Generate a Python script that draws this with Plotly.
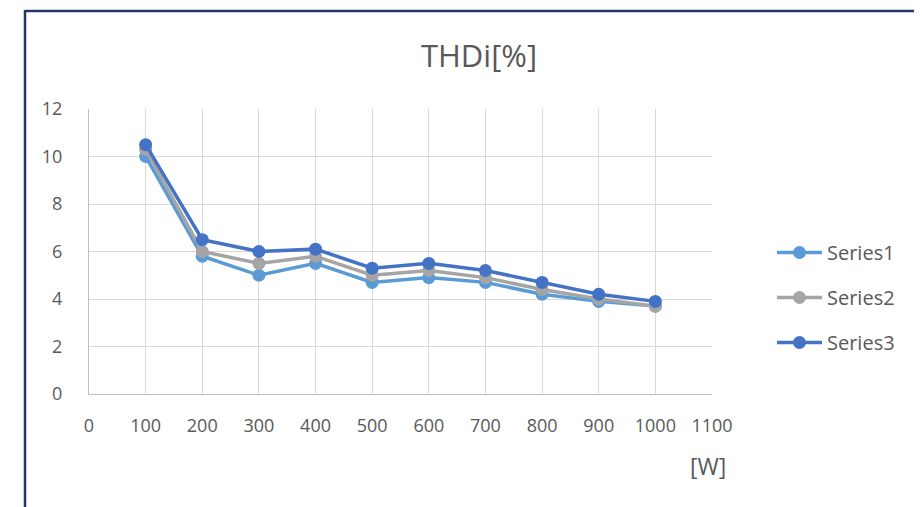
import plotly.graph_objects as go

watts = [100, 200, 300, 400, 500, 600, 700, 800, 900, 1000]
series1 = [10.0, 5.8, 5.0, 5.5, 4.7, 4.9, 4.7, 4.2, 3.9, 3.7]
series2 = [10.3, 6.0, 5.5, 5.8, 5.0, 5.2, 4.9, 4.4, 4.0, 3.7]
series3 = [10.5, 6.5, 6.0, 6.1, 5.3, 5.5, 5.2, 4.7, 4.2, 3.9]
names = ["Series1", "Series2", "Series3"]
colors = ["#5B9BD5", "#A5A5A5", "#4472C4"]

W, H = 922, 507
OFF = 8  # page body margin
# plot area in screen pixels: x 89..712, y 109..394
L, R, T, B = 89 - OFF, W - (712 - OFF), 109 - OFF, H - (394 - OFF)
pw, ph = W - L - R, H - T - B

def px(x):
    return (x - OFF - L) / pw

def py(y):
    return (H - B - (y - OFF)) / ph

fig = go.Figure()
for n, s, c in zip(names, [series1, series2, series3], colors):
    fig.add_trace(go.Scatter(
        x=watts, y=s, name=n, mode="lines+markers",
        line=dict(color=c, width=3.5),
        marker=dict(color=c, size=13),
        legendgroup=n,
    ))

font = "Open Sans"
grey = "#595959"
fig.update_layout(
    width=W, height=H,
    margin=dict(l=L, r=R, t=T, b=B),
    paper_bgcolor="white", plot_bgcolor="white",
    font=dict(family=font, color=grey, size=18),
    title=dict(text="THDi[%]", xref="container", yref="container",
               x=(479 - OFF) / W, xanchor="center", y=1 - (56 - OFF) / H, yanchor="middle",
               font=dict(size=31, color=grey, family=font)),
    showlegend=True,
    legend=dict(x=px(772), y=py(233), xanchor="left", yanchor="top",
                font=dict(size=20, color=grey), tracegroupgap=16,
                itemwidth=45,
                traceorder="grouped", bgcolor="rgba(0,0,0,0)"),
    xaxis=dict(range=[0, 1100], tickmode="linear", tick0=0, dtick=100,
               showgrid=True, gridcolor="#D9D9D9", gridwidth=1.3,
               showline=True, linecolor="#BFBFBF", linewidth=1.3,
               zeroline=False, ticks="outside", ticklen=15, tickcolor="rgba(0,0,0,0)",
               tickfont=dict(size=18, color=grey)),
    yaxis=dict(range=[0, 12], tickmode="linear", tick0=0, dtick=2,
               showgrid=True, gridcolor="#D9D9D9", gridwidth=1.3,
               showline=True, linecolor="#BFBFBF", linewidth=1.3,
               zeroline=False, ticks="outside", ticklen=22, tickcolor="rgba(0,0,0,0)",
               tickfont=dict(size=18, color=grey)),
)

fig.add_annotation(text="[W]", xref="paper", yref="paper", x=px(708), y=py(466),
                   xanchor="center", yanchor="middle", showarrow=False,
                   font=dict(size=23, color=grey, family=font))

border = "#1F3864"
fig.add_shape(type="line", xref="paper", yref="paper", x0=px(25), x1=px(940),
              y0=py(11), y1=py(11), line=dict(color=border, width=2.5))
fig.add_shape(type="line", xref="paper", yref="paper", x0=px(25), x1=px(25),
              y0=py(10), y1=py(530), line=dict(color=border, width=2.5))

fig.write_html("out.html")
